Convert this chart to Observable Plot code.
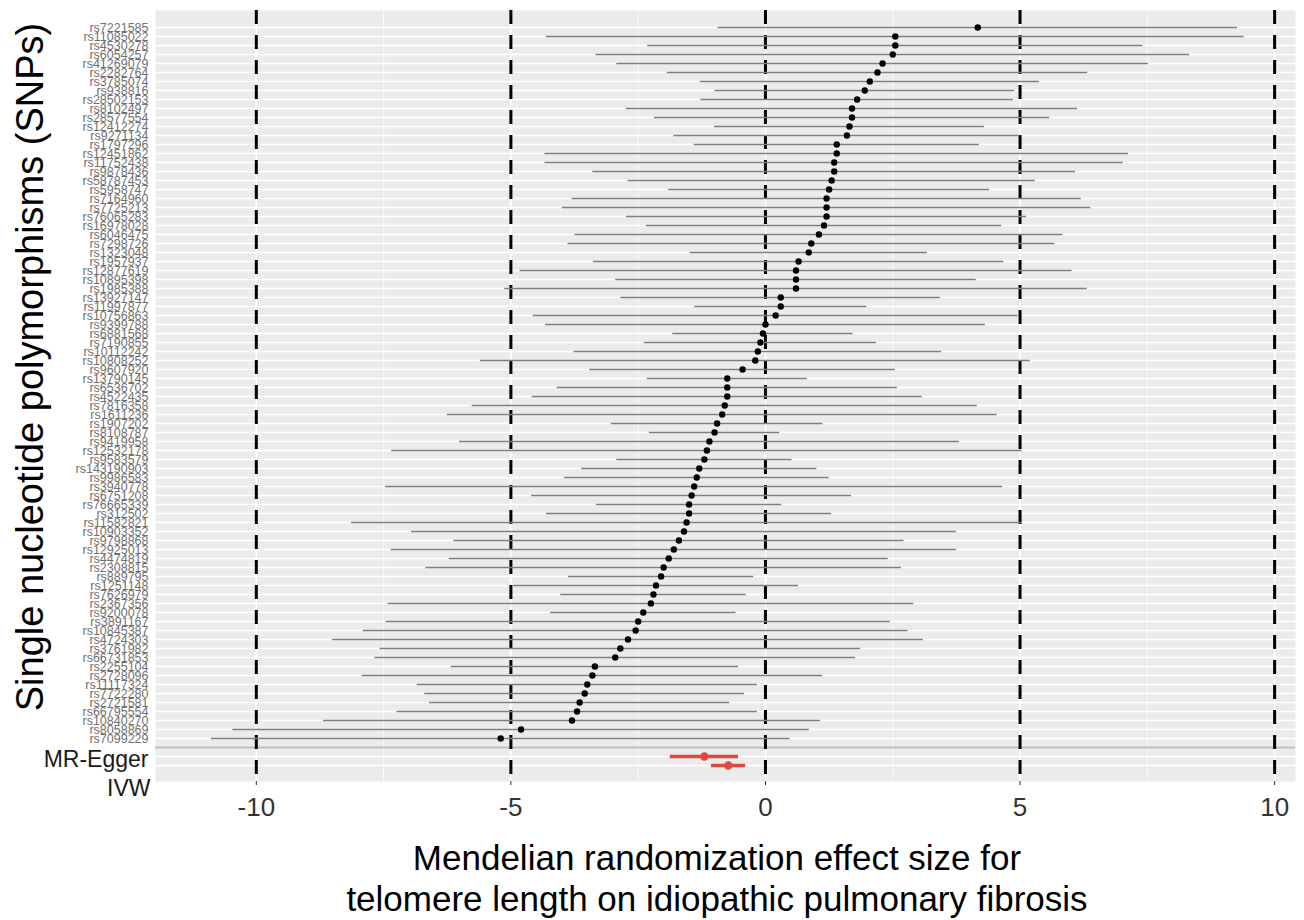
<!DOCTYPE html>
<html>
<head>
<meta charset="utf-8">
<script src="https://cdn.jsdelivr.net/npm/d3@7"></script>
<script src="https://cdn.jsdelivr.net/npm/@observablehq/plot@0.6"></script>
<style>
  html, body { margin: 0; padding: 0; background: #ffffff; }
  #chart svg { display: block; }
</style>
</head>
<body>
<div id="chart"></div>
<script>
// ---- data ----
const snps = [
  "rs7221585","rs11085022","rs4530278","rs6054257","rs41269079","rs2282764","rs3785074","rs938816","rs28502153","rs8102497",
  "rs28577554","rs12412274","rs9271134","rs1797296","rs12451862","rs11752438","rs9878436","rs58787453","rs5958747","rs7164960",
  "rs7725213","rs76065283","rs16978028","rs6046475","rs7298726","rs1323048","rs1957937","rs12877619","rs10895398","rs1985388",
  "rs13927147","rs11997877","rs10756863","rs9399788","rs6881568","rs7190855","rs10112242","rs10808252","rs9607920","rs13790145",
  "rs6536702","rs4522435","rs7816358","rs1611236","rs1907202","rs8108787","rs9419958","rs12532178","rs9583579","rs143190903",
  "rs9986583","rs3940778","rs6751208","rs76665339","rs312502","rs11582821","rs10903352","rs9798868","rs12925013","rs4474819",
  "rs2308815","rs889795","rs1251148","rs7626979","rs2367356","rs9200078","rs3891167","rs10845387","rs4724303","rs3761982",
  "rs66731853","rs2255104","rs2728096","rs11117324","rs7722280","rs2721581","rs66795554","rs10840270","rs8058869","rs7099229"
];
const beta = [
  4.17, 2.55, 2.55, 2.50, 2.30, 2.20, 2.05, 1.95, 1.80, 1.70,
  1.70, 1.65, 1.60, 1.40, 1.40, 1.35, 1.35, 1.30, 1.25, 1.20,
  1.20, 1.20, 1.15, 1.05, 0.90, 0.85, 0.65, 0.60, 0.60, 0.60,
  0.30, 0.30, 0.20, 0.00, -0.05, -0.10, -0.15, -0.20, -0.45, -0.75,
  -0.75, -0.75, -0.80, -0.85, -0.95, -1.00, -1.10, -1.15, -1.20, -1.30,
  -1.35, -1.40, -1.45, -1.50, -1.50, -1.55, -1.60, -1.70, -1.80, -1.90,
  -2.00, -2.05, -2.15, -2.20, -2.25, -2.40, -2.50, -2.55, -2.70, -2.85,
  -2.95, -3.35, -3.40, -3.50, -3.55, -3.65, -3.70, -3.80, -4.80, -5.20
];
const halfWidth = [
  5.10, 6.85, 4.86, 5.83, 5.22, 4.13, 3.33, 2.94, 3.07, 4.43,
  3.88, 2.65, 3.40, 2.80, 5.73, 5.68, 4.74, 4.00, 3.15, 5.00,
  5.19, 3.93, 3.49, 4.79, 4.78, 2.33, 4.03, 5.42, 3.54, 5.72,
  3.14, 1.69, 4.76, 4.32, 1.77, 2.28, 3.61, 5.40, 3.00, 1.57,
  3.34, 3.83, 4.96, 5.40, 2.08, 1.28, 4.91, 6.19, 1.72, 2.31,
  2.60, 6.06, 3.14, 1.82, 2.80, 6.58, 5.35, 4.42, 5.55, 4.31,
  4.67, 1.82, 2.80, 1.82, 5.16, 1.82, 4.95, 5.35, 5.80, 4.72,
  4.72, 2.82, 4.52, 3.34, 3.14, 2.95, 3.54, 4.88, 5.66, 5.68
];
const methods = ["MR-Egger", "IVW"];
const methodBeta = [-1.20, -0.73];
const methodLow = [-1.87, -1.06];
const methodHigh = [-0.53, -0.39];
const xTicks = [-10, -5, 0, 5, 10];
const xMinor = [-7.5, -2.5, 2.5, 7.5];
const xTitle = ["Mendelian randomization effect size for", "telomere length on idiopathic pulmonary fibrosis"];
const yTitle = "Single nucleotide polymorphisms (SNPs)";

// ---- tables ----
const snpData = snps.map((s, i) => ({snp: s, b: beta[i], lo: beta[i] - halfWidth[i], hi: beta[i] + halfWidth[i]}));
const sumData = methods.map((m, i) => ({snp: m, b: methodBeta[i], lo: methodLow[i], hi: methodHigh[i]}));
const blank = " ";
const yDomain = [...snps, blank, ...methods];

const font = "'Liberation Sans', Arial, Helvetica, sans-serif";
const red = "#E4473E";

const chart = Plot.plot({
  width: 1304,
  height: 920,
  marginTop: 10,
  marginBottom: 139,
  marginLeft: 155,
  marginRight: 9,
  style: {fontFamily: font, background: "#ffffff", overflow: "visible"},
  x: {domain: [-11.98, 10.41]},
  y: {type: "point", domain: yDomain, padding: 0.73},
  marks: [
    Plot.frame({fill: "#EBEBEB", stroke: null}),
    Plot.gridX({ticks: xMinor, stroke: "#ffffff", strokeOpacity: 1, strokeWidth: 0.8}),
    Plot.gridX({ticks: xTicks, stroke: "#ffffff", strokeOpacity: 1, strokeWidth: 1.6}),
    Plot.gridY(yDomain, {stroke: "#ffffff", strokeOpacity: 1, strokeWidth: 1.3}),
    Plot.ruleY([blank], {stroke: "#BEBEBE", strokeWidth: 2}),
    Plot.ruleX(xTicks, {stroke: "#000000", strokeWidth: 3, strokeDasharray: "14,11"}),
    Plot.ruleY(snpData, {y: "snp", x1: "lo", x2: "hi", stroke: "#7F7F7F", strokeWidth: 1.7}),
    Plot.dot(snpData, {x: "b", y: "snp", r: 3.2, fill: "#000000", stroke: null}),
    Plot.ruleY(sumData, {y: "snp", x1: "lo", x2: "hi", stroke: red, strokeWidth: 3.5}),
    Plot.dot(sumData, {x: "b", y: "snp", r: 4.2, fill: red, stroke: null}),
    Plot.axisX({ticks: xTicks, tickFormat: d => String(d), tickSize: 4, tickPadding: 12, fontSize: 26, fill: "#333333", stroke: "#333333", label: null}),
    Plot.axisY(snps, {tickSize: 0, tickPadding: 7, fontSize: 12.5, fill: "#707070", label: null}),
    Plot.axisY(["MR-Egger"], {tickSize: 0, tickPadding: 7, fontSize: 23, fill: "#1a1a1a", dy: 3, label: null}),
    Plot.axisY(["IVW"], {tickSize: 0, tickPadding: 5, fontSize: 23, fill: "#1a1a1a", dy: 23, label: null})
  ]
});

const svg = d3.select(chart);
svg.append("text")
  .attr("transform", "translate(30,367) rotate(-90)")
  .attr("text-anchor", "middle")
  .attr("dominant-baseline", "central")
  .attr("font-family", font)
  .attr("font-size", 38)
  .attr("fill", "#000000")
  .text(yTitle);
xTitle.forEach((t, i) => {
  svg.append("text")
    .attr("x", 717)
    .attr("y", 857 + i * 41)
    .attr("text-anchor", "middle")
    .attr("dominant-baseline", "central")
    .attr("font-family", font)
    .attr("font-size", 35)
    .attr("fill", "#000000")
    .text(t);
});

document.getElementById("chart").appendChild(chart);
</script>
</body>
</html>
